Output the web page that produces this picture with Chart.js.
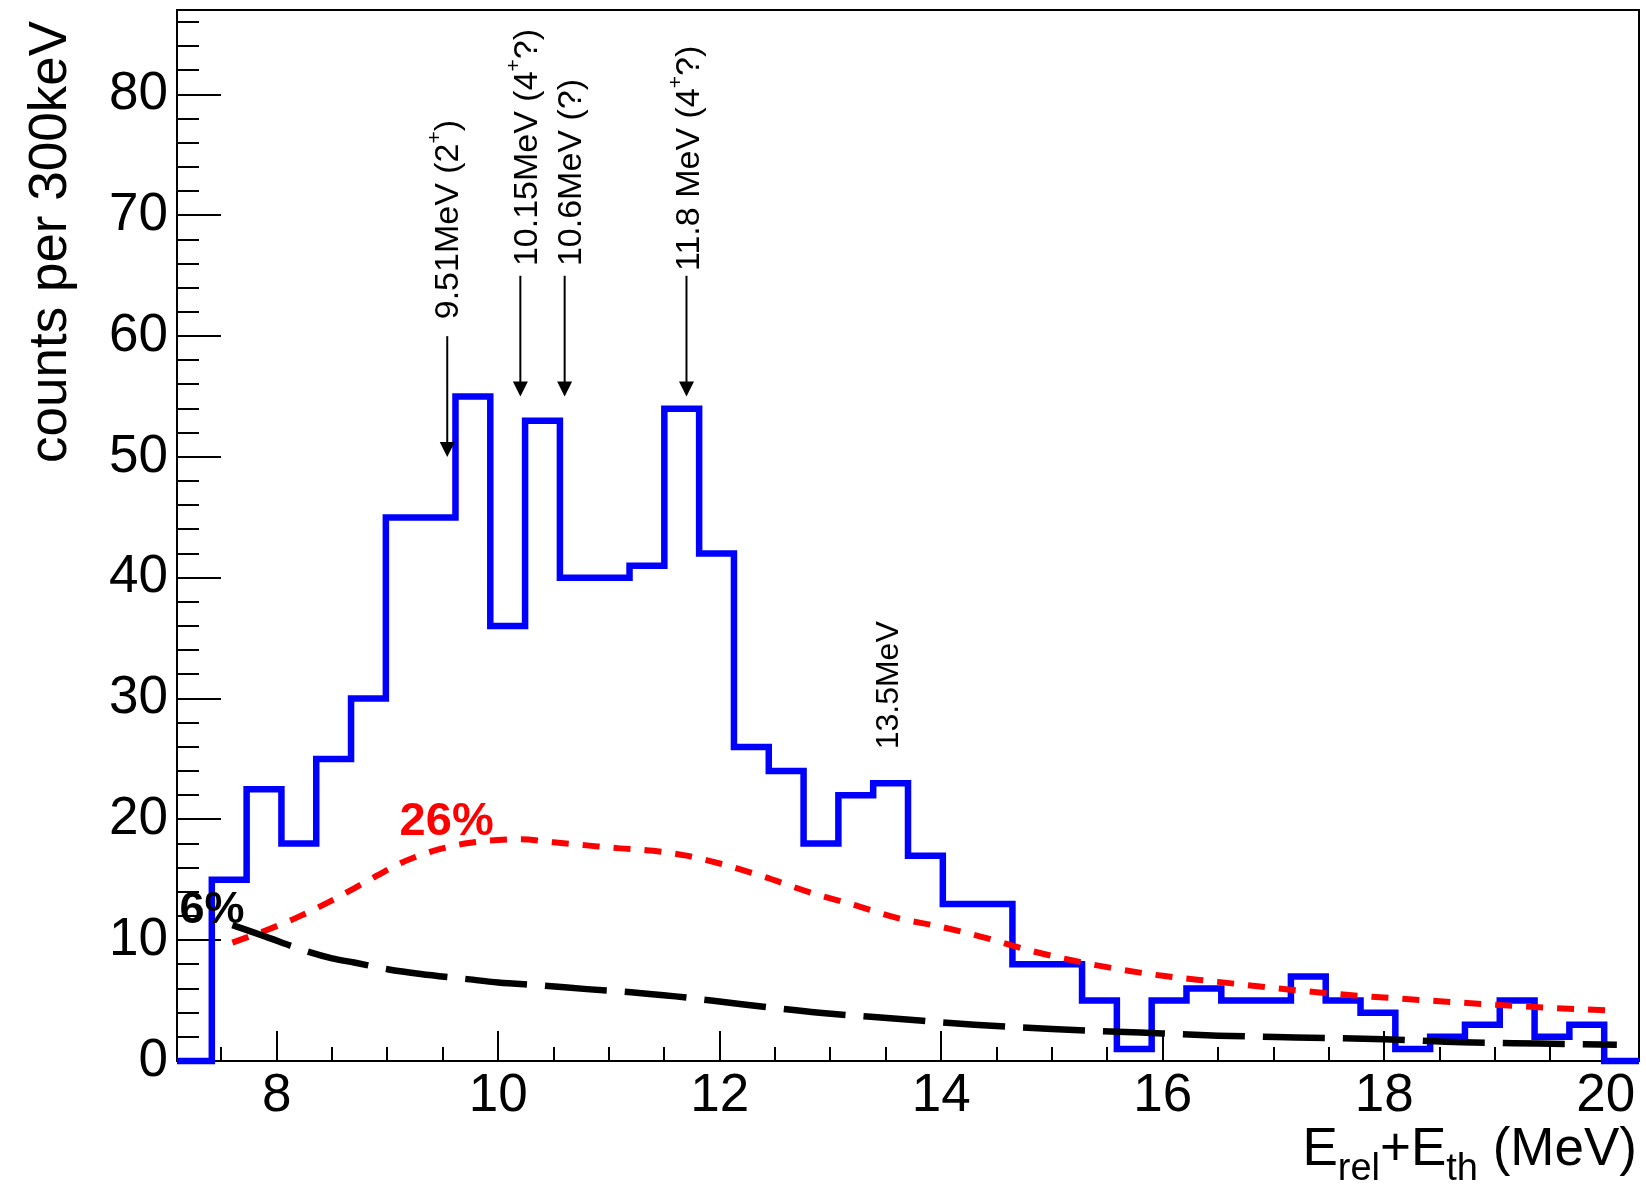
<!DOCTYPE html>
<html>
<head>
<meta charset="utf-8">
<script src="https://cdn.jsdelivr.net/npm/chart.js@4.4.1/dist/chart.umd.min.js"></script>
<style>
  html, body { margin: 0; padding: 0; background: #fff; }
  #c { display: block; }
</style>
</head>
<body>
<canvas id="c" width="1646" height="1184"></canvas>
<script>
// histogram range and counts (42 equal bins)
var histLow = 7.1, histHigh = 20.3;
var counts = [0, 15, 22.5, 18, 25, 30, 45, 45, 55, 36, 53, 40, 40, 41, 54, 42, 26, 24, 18, 22, 23,
              17, 13, 13, 8, 8, 5, 1, 5, 6, 5, 5, 7, 5, 4, 1, 2, 3, 5, 2, 3, 0];

// 26% curve (red, dotted)
var redE = [7.6, 7.9, 8.2, 8.5, 8.8, 9.1, 9.4, 9.7, 10.0, 10.2, 10.5, 10.8, 11.1, 11.4, 11.7, 12.0,
            12.4, 12.8, 13.2, 13.6, 14.0, 14.4, 14.8, 15.2, 15.6, 16.0, 16.5, 17.0, 17.5, 18.0,
            18.5, 19.0, 19.5, 20.1];
var redY = [9.8, 10.8, 11.95, 13.3, 14.8, 16.3, 17.35, 18.0, 18.3, 18.35, 18.1, 17.85, 17.6, 17.4,
            17.0, 16.35, 15.25, 14.0, 12.95, 11.85, 11.1, 10.2, 9.15, 8.3, 7.6, 7.05, 6.55, 6.05,
            5.6, 5.25, 4.95, 4.65, 4.4, 4.15];

// 6% curve (black, long dashes)
var blackE = [7.6, 7.9, 8.2, 8.5, 8.7, 9.0, 9.3, 9.7, 10.0, 10.4, 10.8, 11.2, 11.6, 12.2, 12.9,
              13.6, 14.3, 15.0, 15.8, 16.5, 17.2, 18.0, 18.7, 19.4, 20.1];
var blackY = [11.25, 10.3, 9.3, 8.5, 8.15, 7.6, 7.2, 6.8, 6.5, 6.25, 5.95, 5.7, 5.35, 4.7, 4.0,
              3.5, 3.0, 2.65, 2.35, 2.1, 1.95, 1.8, 1.55, 1.45, 1.35];

var xTickLabels = [8, 10, 12, 14, 16, 18, 20];
var yTickLabels = [0, 10, 20, 30, 40, 50, 60, 70, 80];

// level markers: text anchor (x, y) and arrow (x, from, to)
var levels = [
  { parts: [['9.51MeV (2'], ['+', 1], [')']], x: 9.64, y: 61.4, ax: 9.54, from: 60, to: 50, size: 34 },
  { parts: [['10.15MeV (4'], ['+', 1], ['?)']], x: 10.35, y: 65.8, ax: 10.2, from: 65, to: 55, size: 34 },
  { parts: [['10.6MeV (?)']], x: 10.75, y: 65.8, ax: 10.6, from: 65, to: 55, size: 34 },
  { parts: [['11.8 MeV (4'], ['+', 1], ['?)']], x: 11.81, y: 65.4, ax: 11.7, from: 65, to: 55, size: 34 },
  { parts: [['13.5MeV']], x: 13.61, y: 25.8, size: 32 }
];

var FONT = '"Liberation Sans", Arial, Helvetica, sans-serif';

var binWidth = (histHigh - histLow) / counts.length;
var histPts = counts.map(function (c, i) { return { x: histLow + i * binWidth, y: c }; });
histPts.push({ x: histHigh, y: 0 });

function pts(xs, ys) {
  return xs.map(function (x, i) { return { x: x, y: ys[i] }; });
}

var rootStyle = {
  id: 'rootStyle',
  beforeDatasetsDraw: function (chart) {
    var ctx = chart.ctx, a = chart.chartArea;
    var xs = chart.scales.x, ys = chart.scales.y;
    ctx.save();
    ctx.strokeStyle = '#000';
    ctx.lineWidth = 2;
    ctx.strokeRect(a.left, a.top, a.right - a.left, a.bottom - a.top);
    ctx.beginPath();
    for (var k = 15; k <= 40; k++) {
      var px = Math.round(xs.getPixelForValue(k / 2));
      var len = (k % 4 === 0) ? 30 : 14;
      ctx.moveTo(px, a.bottom);
      ctx.lineTo(px, a.bottom - len);
    }
    for (var j = 0; j <= 43; j++) {
      var py = Math.round(ys.getPixelForValue(j * 2));
      var l2 = (j % 5 === 0) ? 44 : 22;
      ctx.moveTo(a.left, py);
      ctx.lineTo(a.left + l2, py);
    }
    ctx.stroke();
    ctx.restore();
  },
  afterDatasetsDraw: function (chart) {
    var ctx = chart.ctx, a = chart.chartArea;
    var xs = chart.scales.x, ys = chart.scales.y;
    ctx.save();
    ctx.fillStyle = '#000';
    ctx.strokeStyle = '#000';

    levels.forEach(function (lv) {
      if (lv.ax !== undefined) {
        var ax = xs.getPixelForValue(lv.ax);
        var y0 = ys.getPixelForValue(lv.from), y1 = ys.getPixelForValue(lv.to);
        ctx.lineWidth = 2;
        ctx.beginPath();
        ctx.moveTo(ax, y0);
        ctx.lineTo(ax, y1 - 14);
        ctx.stroke();
        ctx.beginPath();
        ctx.moveTo(ax - 7.5, y1 - 15);
        ctx.lineTo(ax + 7.5, y1 - 15);
        ctx.lineTo(ax, y1);
        ctx.closePath();
        ctx.fill();
      }
      ctx.save();
      ctx.translate(xs.getPixelForValue(lv.x), ys.getPixelForValue(lv.y));
      ctx.rotate(-Math.PI / 2);
      ctx.textAlign = 'left';
      ctx.textBaseline = 'alphabetic';
      var cx = 0;
      lv.parts.forEach(function (p) {
        var sup = p[1] === 1;
        ctx.font = (sup ? Math.round(lv.size * 0.62) : lv.size) + 'px ' + FONT;
        ctx.fillText(p[0], cx, sup ? -lv.size * 0.5 : 0);
        cx += ctx.measureText(p[0]).width;
      });
      ctx.restore();
    });

    // percentages
    ctx.font = 'bold 47px ' + FONT;
    ctx.fillStyle = '#ff0000';
    ctx.textAlign = 'left';
    ctx.fillText('26%', xs.getPixelForValue(9.11), ys.getPixelForValue(18.7));

    ctx.save();
    ctx.beginPath();
    ctx.rect(a.left, a.top, a.right - a.left, a.bottom - a.top);
    ctx.clip();
    ctx.font = 'bold 45px ' + FONT;
    ctx.fillStyle = '#000';
    ctx.textAlign = 'right';
    ctx.fillText('6%', xs.getPixelForValue(7.71), ys.getPixelForValue(11.4));
    ctx.restore();

    // axis titles
    ctx.fillStyle = '#000';
    ctx.save();
    ctx.translate(66, 21);
    ctx.rotate(-Math.PI / 2);
    ctx.textAlign = 'right';
    ctx.font = '53px ' + FONT;
    ctx.fillText('counts per 300keV', 0, 0);
    ctx.restore();

    var parts = [['E', 0], ['rel', 1], ['+E', 0], ['th', 1], [' (MeV)', 0]];
    var total = 0;
    parts.forEach(function (p) {
      ctx.font = (p[1] ? 38 : 53) + 'px ' + FONT;
      total += ctx.measureText(p[0]).width;
    });
    var tx = 1637 - total;
    ctx.textAlign = 'left';
    parts.forEach(function (p) {
      ctx.font = (p[1] ? 38 : 53) + 'px ' + FONT;
      ctx.fillText(p[0], tx, p[1] ? 1180 : 1165);
      tx += ctx.measureText(p[0]).width;
    });
    ctx.restore();
  }
};

var chart = new Chart(document.getElementById('c'), {
  type: 'line',
  data: {
    datasets: [
      { data: pts(blackE, blackY), borderColor: '#000', borderWidth: 6.5, borderDash: [62, 18],
        pointRadius: 0, fill: false, cubicInterpolationMode: 'monotone', clip: false },
      { data: pts(redE, redY), borderColor: '#ff0000', borderWidth: 6, borderDash: [17, 14],
        pointRadius: 0, fill: false, cubicInterpolationMode: 'monotone', clip: false },
      { data: histPts, borderColor: '#0000ff', borderWidth: 6.5, stepped: true, pointRadius: 0,
        fill: false, borderJoinStyle: 'miter', clip: false }
    ]
  },
  options: {
    responsive: false,
    animation: false,
    devicePixelRatio: 1,
    layout: { padding: { left: 0, top: 10, right: 7, bottom: 0 } },
    plugins: { legend: { display: false }, tooltip: { enabled: false } },
    scales: {
      x: {
        type: 'linear', min: histLow, max: histHigh,
        grid: { display: false, drawTicks: false },
        border: { display: false },
        ticks: { color: '#000', padding: 4, font: { family: FONT, size: 53 }, maxRotation: 0 },
        afterBuildTicks: function (s) { s.ticks = xTickLabels.map(function (v) { return { value: v }; }); },
        afterFit: function (s) { s.height = 123; s.paddingLeft = 0; s.paddingRight = 0; }
      },
      y: {
        min: 0, max: 87,
        grid: { display: false, drawTicks: false },
        border: { display: false },
        ticks: { color: '#000', padding: 9, font: { family: FONT, size: 53 } },
        afterBuildTicks: function (s) { s.ticks = yTickLabels.map(function (v) { return { value: v }; }); },
        afterFit: function (s) { s.width = 177; s.paddingTop = 0; s.paddingBottom = 0; }
      }
    }
  },
  plugins: [rootStyle]
});
</script>
</body>
</html>
